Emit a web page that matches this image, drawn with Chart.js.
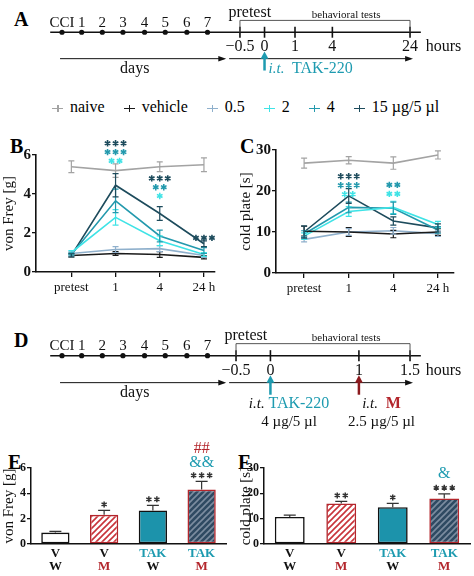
<!DOCTYPE html>
<html>
<head>
<meta charset="utf-8">
<script src="https://cdn.jsdelivr.net/npm/chart.js@4.4.0/dist/chart.umd.min.js"></script>
<style>
  body { margin:0; background:#fff; font-family:"Liberation Serif", serif; }
  .box { position:absolute; }
  .lbl { position:absolute; font:bold 20px "Liberation Serif", serif; }
  #legend { position:absolute; left:52px; top:98px; font:16px "Liberation Serif", serif; white-space:nowrap; }
  #legend span.it { margin-right:19px; }
  .mk { display:inline-block; width:11px; height:1.5px; position:relative; vertical-align:middle; margin-right:7px; }
  .mk:after { content:""; position:absolute; left:5px; top:-3px; width:1.5px; height:7px; background:inherit; }
</style>
</head>
<body>
<div class="lbl" style="left:14px;top:8px">A</div>
<div class="lbl" style="left:10px;top:135px">B</div>
<div class="lbl" style="left:240px;top:135px">C</div>
<div class="lbl" style="left:14px;top:329px">D</div>
<div class="lbl" style="left:8px;top:451px">E</div>
<div class="lbl" style="left:238px;top:451px">F</div>
<div class="box" style="left:0;top:0;width:474px;height:90px"><canvas id="tlA"></canvas></div>
<div id="legend"></div>
<div class="box" style="left:0;top:130px;width:237px;height:170px"><canvas id="chB"></canvas></div>
<div class="box" style="left:237px;top:130px;width:237px;height:170px"><canvas id="chC"></canvas></div>
<div class="box" style="left:0;top:322px;width:474px;height:112px"><canvas id="tlD"></canvas></div>
<div class="box" style="left:0;top:440px;width:237px;height:136px"><canvas id="chE"></canvas></div>
<div class="box" style="left:237px;top:440px;width:237px;height:136px"><canvas id="chF"></canvas></div>
<script>
// ---- data ----
const timeLabels = ["pretest", "1", "4", "24 h"];
const groupNames = ["naive", "vehicle", "0.5", "2", "4", "15 µg/5 µl"];
const groupColors = ["#a3a3a3", "#1a1a1a", "#8fb0cc", "#3fe3e6", "#2399ad", "#1d4b5c"];

const frey = [
  [5.4, 5.2, 5.4, 5.5],
  [0.85, 0.95, 0.9, 0.75],
  [0.95, 1.15, 1.2, 0.85],
  [1.0, 2.8, 1.6, 0.9],
  [0.9, 3.65, 1.85, 1.1],
  [0.85, 4.45, 3.0, 1.45]
];
const freyErr = [
  [0.3, 0.35, 0.25, 0.35],
  [0.08, 0.1, 0.15, 0.08],
  [0.08, 0.15, 0.15, 0.1],
  [0.1, 0.4, 0.25, 0.1],
  [0.08, 0.6, 0.3, 0.15],
  [0.08, 0.6, 0.35, 0.15]
];
const cold = [
  [26.8, 27.5, 26.8, 28.8],
  [10.2, 10.0, 9.5, 10.0],
  [8.2, 10.0, 10.3, 9.6],
  [9.0, 15.0, 16.0, 11.8],
  [9.5, 16.0, 15.8, 10.5],
  [10.0, 18.8, 12.7, 11.0]
];
const coldErr = [
  [1.2, 0.9, 1.5, 1.0],
  [1.2, 1.1, 0.9, 0.8],
  [0.6, 0.8, 0.8, 0.7],
  [0.8, 1.2, 1.5, 0.8],
  [0.8, 1.3, 1.5, 0.8],
  [1.5, 1.8, 1.0, 1.0]
];
// significance marks: [x index, y value, text, group index]
const freyStars = [
  [1, 6.6, "***", 5], [1, 6.15, "***", 4], [1, 5.7, "**", 3],
  [2, 4.8, "***", 5], [2, 4.35, "**", 4], [2, 3.9, "*", 3],
  [3, 1.75, "***", 5]
];
const coldStars = [
  [1, 23.6, "***", 5], [1, 21.4, "***", 4], [1, 19.2, "**", 3],
  [2, 21.5, "**", 4], [2, 19.3, "**", 3]
];

const barTop = ["V", "V", "TAK", "TAK"];
const barBottom = ["W", "M", "W", "M"];
const freyBars = [0.9, 2.3, 2.65, 4.3];
const freyBarErr = [0.1, 0.35, 0.4, 0.65];
const coldBars = [10.7, 16.0, 14.5, 18.0];
const coldBarErr = [0.7, 0.8, 1.5, 1.8];
const freyBarMarks = [[1, "*"], [2, "**"], [3, "***"]];
const coldBarMarks = [[1, "**"], [2, "*"], [3, "***"]];

const dayLabels = ["CCI", "1", "2", "3", "4", "5", "6", "7"];
const dayPos = [59, 79, 100, 121, 143, 164, 186, 207];
const hoursA = ["−0.5", "0", "1", "4", "24"];
const hoursAPos = [240, 265, 296, 334, 413];
const hoursD = ["−0.5", "0", "1", "1.5"];
const hoursDPos = [236, 271, 361, 413];

const TEAL = "#1e9bb0", RED = "#b3262c";
const SERIF = "'Liberation Serif', serif";

// ---- legend ----
document.getElementById("legend").innerHTML = groupNames.map((n, i) =>
  `<span class="it"><span class="mk" style="background:${groupColors[i]}"></span>${n}</span>`).join("");

// ---- plugins ----
const errPlugin = {
  id: "errBars",
  afterDatasetsDraw(chart) {
    const { ctx } = chart;
    chart.data.datasets.forEach((ds, di) => {
      if (!ds.err) return;
      const meta = chart.getDatasetMeta(di);
      const ys = chart.scales.y;
      ctx.save();
      ctx.strokeStyle = ds.errColor || ds.borderColor;
      ctx.lineWidth = 1.2;
      meta.data.forEach((p, i) => {
        const v = ds.data[i].y !== undefined ? ds.data[i].y : ds.data[i];
        const top = ys.getPixelForValue(v + ds.err[i]);
        const bot = ds.oneSided ? p.y : ys.getPixelForValue(v - ds.err[i]);
        const cw = ds.capW || 3;
        ctx.beginPath();
        ctx.moveTo(p.x, top); ctx.lineTo(p.x, bot);
        ctx.moveTo(p.x - cw, top); ctx.lineTo(p.x + cw, top);
        if (!ds.oneSided) { ctx.moveTo(p.x - cw, bot); ctx.lineTo(p.x + cw, bot); }
        ctx.stroke();
      });
      ctx.restore();
    });
  }
};

// draws one asterisk as a small six-spoke star
function star(ctx, x, y, r) {
  ctx.beginPath();
  for (let k = 0; k < 3; k++) {
    const a = Math.PI / 2 + k * Math.PI / 3;
    ctx.moveTo(x + r * Math.cos(a), y + r * Math.sin(a));
    ctx.lineTo(x - r * Math.cos(a), y - r * Math.sin(a));
  }
  ctx.stroke();
}

function starPlugin(marks) {
  return {
    id: "stars",
    afterDatasetsDraw(chart) {
      const { ctx, scales } = chart;
      ctx.save();
      ctx.lineWidth = 1.6;
      marks.forEach(([x, y, t, g]) => {
        ctx.strokeStyle = groupColors[g];
        const n = t.length, sp = 8, x0 = scales.x.getPixelForValue(x) - (n - 1) * sp / 2;
        for (let k = 0; k < n; k++) star(ctx, x0 + k * sp, scales.y.getPixelForValue(y), 3.2);
      });
      ctx.restore();
    }
  };
}

function lineOptions(ymax, step, ytitle, xmin, xmax, pad, yw) {
  return {
    responsive: true, maintainAspectRatio: false, animation: false,
    layout: { padding: pad },
    plugins: { legend: { display: false }, tooltip: { enabled: false } },
    scales: {
      x: {
        type: "linear", min: xmin, max: xmax,
        afterBuildTicks: s => { s.ticks = [0, 1, 2, 3].map(v => ({ value: v })); },
        ticks: { callback: v => timeLabels[v], color: "#111", font: { family: SERIF, size: 13 }, padding: 3 },
        grid: { drawOnChartArea: false, tickLength: 5, color: "#111", lineWidth: 1.3 },
        border: { color: "#111", width: 1.6 },
        afterFit: s => { s.height = pad.xh; }
      },
      y: {
        min: 0, max: ymax,
        ticks: { stepSize: step, color: "#111", font: { family: SERIF, size: 15, weight: "bold" }, padding: 1 },
        grid: { drawOnChartArea: false, tickLength: 4, color: "#111", lineWidth: 1.3 },
        border: { color: "#111", width: 1.6 },
        title: { display: true, text: ytitle, color: "#111", font: { family: SERIF, size: 15 }, padding: 0 },
        afterFit: s => { s.width = yw; }
      }
    }
  };
}

function lineChart(id, vals, errs, ymax, step, ytitle, xmin, xmax, pad, yw, marks) {
  new Chart(document.getElementById(id), {
    type: "line",
    data: {
      datasets: vals.map((row, g) => ({
        data: row.map((v, i) => ({ x: i, y: v })),
        err: errs[g],
        borderColor: groupColors[g],
        borderWidth: 1.6, pointRadius: 0, tension: 0, clip: false
      }))
    },
    options: lineOptions(ymax, step, ytitle, xmin, xmax, pad, yw),
    plugins: [errPlugin, starPlugin(marks)]
  });
}

lineChart("chB", frey, freyErr, 6, 2, "von Frey [g]", -0.8, 3.25,
  { top: 25, right: 22, bottom: 0, left: 0, xh: 28 }, 36, freyStars);
lineChart("chC", cold, coldErr, 30, 10, "cold plate [s]", -0.63, 3.36,
  { top: 20, right: 20, bottom: 0, left: 0, xh: 27 }, 39, coldStars);

// ---- bar charts ----
function hatch(bg, fg) {
  const c = document.createElement("canvas");
  c.width = 6; c.height = 6;
  const x = c.getContext("2d");
  x.fillStyle = bg; x.fillRect(0, 0, 6, 6);
  x.strokeStyle = fg; x.lineWidth = 1.6;
  x.beginPath();
  x.moveTo(0, 6); x.lineTo(6, 0);
  x.moveTo(-3, 3); x.lineTo(3, -3);
  x.moveTo(3, 9); x.lineTo(9, 3);
  x.stroke();
  return x.createPattern(c, "repeat");
}

function barLabelPlugin(marks, ymax) {
  return {
    id: "barLabels",
    afterDatasetsDraw(chart) {
      const { ctx, scales } = chart;
      const meta = chart.getDatasetMeta(0);
      const ds = chart.data.datasets[0];
      ctx.save();
      ctx.textAlign = "center";
      ctx.textBaseline = "middle";
      const base = scales.x.top;
      meta.data.forEach((p, i) => {
        ctx.font = `bold 13px ${SERIF}`;
        ctx.fillStyle = barTop[i] === "TAK" ? TEAL : "#111";
        ctx.fillText(barTop[i], p.x, base + 10);
        ctx.fillStyle = barBottom[i] === "M" ? RED : "#111";
        ctx.fillText(barBottom[i], p.x, base + 23);
      });
      ctx.strokeStyle = "#333"; ctx.lineWidth = 1.5;
      marks.forEach(([i, t]) => {
        const v = ds.data[i] + ds.err[i];
        const n = t.length, sp = 8, x0 = meta.data[i].x - (n - 1) * sp / 2;
        for (let k = 0; k < n; k++) star(ctx, x0 + k * sp, scales.y.getPixelForValue(v) - 6, 3);
      });
      const last = meta.data[3];
      const topY = scales.y.getPixelForValue(ds.data[3] + ds.err[3]) - 5;
      ctx.font = `16px ${SERIF}`;
      if (ymax === 6) {
        ctx.fillStyle = TEAL; ctx.fillText("&&", last.x, topY - 14);
        ctx.fillStyle = RED; ctx.fillText("##", last.x, topY - 28);
      } else {
        ctx.fillStyle = TEAL; ctx.fillText("&", last.x, topY - 15);
      }
      ctx.restore();
    }
  };
}

function barChart(id, vals, errs, ymax, step, ytitle, yw, rightPad, marks) {
  new Chart(document.getElementById(id), {
    type: "bar",
    data: {
      labels: barTop,
      datasets: [{
        data: vals, err: errs, oneSided: true, capW: 6,
        backgroundColor: ["#ffffff", hatch("#ffffff", "#c8333a"), "#1c93ab", hatch("#2f4a62", "#7c8da0")],
        borderColor: ["#111", RED, "#111", RED],
        errColor: "#333",
        borderWidth: 1.6, borderSkipped: false,
        barPercentage: 0.58, categoryPercentage: 1
      }]
    },
    options: {
      responsive: true, maintainAspectRatio: false, animation: false,
      layout: { padding: { top: 28, right: rightPad, bottom: 0, left: 0 } },
      plugins: { legend: { display: false }, tooltip: { enabled: false } },
      scales: {
        x: {
          ticks: { display: false },
          grid: { display: false },
          border: { color: "#111", width: 1.5 },
          afterFit: s => { s.height = 32; }
        },
        y: {
          min: 0, max: ymax,
          ticks: { stepSize: step, color: "#111", font: { family: SERIF, size: 12, weight: "bold" }, padding: 1 },
          grid: { drawOnChartArea: false, tickLength: 4, color: "#111", lineWidth: 1.3 },
          border: { color: "#111", width: 1.5 },
          title: { display: true, text: ytitle, color: "#111", font: { family: SERIF, size: 15 }, padding: 0 },
          afterFit: s => { s.width = yw; }
        }
      }
    },
    plugins: [errPlugin, barLabelPlugin(marks, ymax)]
  });
}

barChart("chE", freyBars, freyBarErr, 6, 2, "von Frey [g]", 31, 11, freyBarMarks);
barChart("chF", coldBars, coldBarErr, 30, 10, "cold plate [s]", 27, 4, coldBarMarks);

// ---- timelines ----
function timeline(id, h, cfg) {
  const plugin = {
    id: "timeline",
    afterDatasetsDraw(chart) {
      const { ctx, scales } = chart;
      const X = v => scales.x.getPixelForValue(v), Y = v => scales.y.getPixelForValue(v);
      ctx.save();
      ctx.strokeStyle = "#111"; ctx.fillStyle = "#111";
      ctx.lineWidth = 1.6;
      ctx.beginPath(); ctx.moveTo(X(47), Y(cfg.ly)); ctx.lineTo(X(424), Y(cfg.ly)); ctx.stroke();
      cfg.hPos.forEach(p => { ctx.beginPath(); ctx.moveTo(X(p), Y(cfg.ly - 6)); ctx.lineTo(X(p), Y(cfg.ly + 6)); ctx.stroke(); });
      ctx.lineWidth = 1; ctx.strokeStyle = "#555";
      const a = cfg.hPos[0], b = cfg.hPos[cfg.hPos.length - 1];
      ctx.beginPath(); ctx.moveTo(X(a), Y(cfg.ly)); ctx.lineTo(X(a), Y(cfg.ly - 13)); ctx.lineTo(X(b), Y(cfg.ly - 13)); ctx.lineTo(X(b), Y(cfg.ly)); ctx.stroke();
      ctx.textAlign = "center"; ctx.textBaseline = "middle";
      ctx.font = `15px ${SERIF}`;
      dayLabels.forEach((t, i) => ctx.fillText(t, X(dayPos[i]), Y(cfg.ly - 10)));
      ctx.font = `16px ${SERIF}`;
      cfg.hLab.forEach((t, i) => ctx.fillText(t, X(cfg.hPos[i]), Y(cfg.ly + 16)));
      ctx.fillText("hours", X(447), Y(cfg.ly + 16));
      ctx.fillText("pretest", X(cfg.hPos[0] + 10), Y(cfg.ly - 21));
      ctx.fillText("days", X(133), Y(cfg.ly + 40));
      ctx.font = `11px ${SERIF}`;
      ctx.fillText("behavioral tests", X(348), Y(cfg.ly - 19));
      ctx.strokeStyle = "#111"; ctx.lineWidth = 1;
      const ar = (x1, x2) => {
        ctx.beginPath(); ctx.moveTo(X(x1), Y(cfg.ly + 29)); ctx.lineTo(X(x2), Y(cfg.ly + 29)); ctx.stroke();
        ctx.beginPath(); ctx.moveTo(X(x2 + 2), Y(cfg.ly + 29)); ctx.lineTo(X(x2 - 6), Y(cfg.ly + 26)); ctx.lineTo(X(x2 - 6), Y(cfg.ly + 32)); ctx.fill();
      };
      ar(57, 224); ar(229, 414);
      cfg.inj.forEach(([p, col]) => {
        ctx.strokeStyle = col; ctx.fillStyle = col; ctx.lineWidth = 2.5;
        ctx.beginPath(); ctx.moveTo(X(p), Y(cfg.ly + 42)); ctx.lineTo(X(p), Y(cfg.ly + 27)); ctx.stroke();
        ctx.beginPath(); ctx.moveTo(X(p), Y(cfg.ly + 21)); ctx.lineTo(X(p - 4), Y(cfg.ly + 29)); ctx.lineTo(X(p + 4), Y(cfg.ly + 29)); ctx.fill();
      });
      cfg.text(ctx, X, Y);
      ctx.restore();
    }
  };
  new Chart(document.getElementById(id), {
    type: "scatter",
    data: { datasets: [{ data: dayPos.map(p => ({ x: p, y: cfg.ly })), pointRadius: 2.6, backgroundColor: "#111", borderWidth: 0 }] },
    options: {
      responsive: true, maintainAspectRatio: false, animation: false,
      layout: { padding: 0 },
      plugins: { legend: { display: false }, tooltip: { enabled: false } },
      scales: { x: { display: false, min: 0, max: 474 }, y: { display: false, min: 0, max: h, reverse: true } }
    },
    plugins: [plugin]
  });
}

function itText(ctx, x, y, parts) {
  let w = 0;
  parts.forEach(([t, f]) => { ctx.font = f; w += ctx.measureText(t).width; });
  let cx = x - w / 2;
  ctx.textAlign = "left";
  parts.forEach(([t, f, c]) => { ctx.font = f; ctx.fillStyle = c; ctx.fillText(t, cx, y); cx += ctx.measureText(t).width; });
  ctx.textAlign = "center";
}

timeline("tlA", 90, {
  ly: 31, hPos: hoursAPos, hLab: hoursA, inj: [[265, TEAL]],
  text: (ctx, X, Y) => {
    itText(ctx, X(312), Y(71), [["i.t.  ", `italic 15px ${SERIF}`, TEAL], ["TAK-220", `16px ${SERIF}`, TEAL]]);
  }
});
timeline("tlD", 112, {
  ly: 32, hPos: hoursDPos, hLab: hoursD, inj: [[271, TEAL], [361, "#8c1a1e"]],
  text: (ctx, X, Y) => {
    itText(ctx, X(290), Y(84), [["i.t. ", `italic 15px ${SERIF}`, "#111"], ["TAK-220", `16px ${SERIF}`, TEAL]]);
    itText(ctx, X(384), Y(84), [["i.t. ", `italic 15px ${SERIF}`, "#111"], [" M", `bold 16px ${SERIF}`, RED]]);
    ctx.font = `15px ${SERIF}`; ctx.fillStyle = "#111";
    ctx.fillText("4 µg/5 µl", X(290), Y(103));
    ctx.fillText("2.5 µg/5 µl", X(384), Y(103));
  }
});
</script>
</body>
</html>
